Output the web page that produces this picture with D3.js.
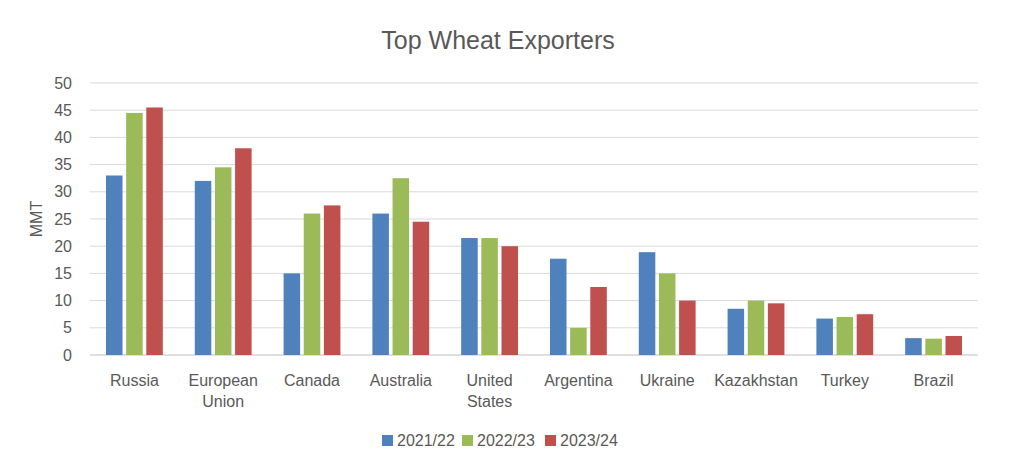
<html>
<head>
<script src="https://cdn.jsdelivr.net/npm/d3@7"></script>
<style>
  body { margin: 0; background: #fff; font-family: "Liberation Sans", Arial, sans-serif; }
</style>
</head>
<body>
<div id="chart"></div>
<script>
// data
var categories = ["Russia", "European Union", "Canada", "Australia", "United States",
                  "Argentina", "Ukraine", "Kazakhstan", "Turkey", "Brazil"];
var seriesNames = ["2021/22", "2022/23", "2023/24"];
var s2122 = [33, 32, 15, 26, 21.5, 17.7, 18.9, 8.5, 6.7, 3.1];
var s2223 = [44.5, 34.5, 26, 32.5, 21.5, 5, 15, 10, 7, 3];
var s2324 = [45.5, 38, 27.5, 24.5, 20, 12.5, 10, 9.5, 7.5, 3.5];
var yTicks = [0, 5, 10, 15, 20, 25, 30, 35, 40, 45, 50];
var colors = ["#4f81bd", "#9bbb59", "#c0504d"];

var series = [s2122, s2223, s2324];
var W = 1024, H = 469;
var m = { left: 90, right: 46, top: 83, bottom: 114 };

var svg = d3.select("#chart").append("svg").attr("width", W).attr("height", H);

var x = d3.scaleBand().domain(categories).range([m.left, W - m.right]).paddingInner(0.36).paddingOuter(0.18);
var xs = d3.scaleBand().domain(seriesNames).range([0, x.bandwidth()]).paddingInner(0.18);
var y = d3.scaleLinear().domain([0, 50]).range([H - m.bottom, m.top]);

// gridlines
svg.append("g").selectAll("line").data(yTicks).enter().append("line")
    .attr("x1", m.left).attr("x2", W - m.right)
    .attr("y1", function (d) { return y(d); }).attr("y2", function (d) { return y(d); })
    .attr("stroke", function (d) { return d === 0 ? "#bfbfbf" : "#d9d9d9"; });

// y axis labels
var yAxis = d3.axisLeft(y).tickValues(yTicks).tickSize(0).tickPadding(18);
svg.append("g").attr("transform", "translate(" + m.left + ",0)").call(yAxis)
    .call(function (g) { g.select(".domain").remove(); })
    .selectAll("text").attr("font-size", 16).attr("fill", "#595959");

// bars
series.forEach(function (vals, si) {
  svg.append("g").selectAll("rect").data(vals).enter().append("rect")
      .attr("x", function (d, i) { return x(categories[i]) + xs(seriesNames[si]); })
      .attr("width", xs.bandwidth())
      .attr("y", function (d) { return y(d); })
      .attr("height", function (d) { return y(0) - y(d); })
      .attr("fill", colors[si]);
});

// category labels (wrap two-word ones)
var xl = svg.append("g");
categories.forEach(function (c) {
  var words = c.split(" ");
  var t = xl.append("text").attr("text-anchor", "middle")
      .attr("font-size", 16).attr("fill", "#595959");
  words.forEach(function (w, i) {
    t.append("tspan").attr("x", x(c) + x.bandwidth() / 2)
        .attr("y", y(0) + 31 + i * 21).text(w);
  });
});

// y axis title
svg.append("text").attr("transform", "translate(42," + y(25) + ") rotate(-90)")
    .attr("text-anchor", "middle").attr("font-size", 16).attr("fill", "#595959").text("MMT");

// title
svg.append("text").attr("x", 498).attr("y", 49).attr("text-anchor", "middle")
    .attr("font-size", 25).attr("fill", "#595959").text("Top Wheat Exporters");

// legend
var lg = svg.append("g");
var lx = [382, 462, 545];
seriesNames.forEach(function (n, i) {
  lg.append("rect").attr("x", lx[i]).attr("y", 435).attr("width", 11).attr("height", 11).attr("fill", colors[i]);
  lg.append("text").attr("x", lx[i] + 15).attr("y", 446).attr("font-size", 16)
      .attr("fill", "#595959").text(n);
});
</script>
</body>
</html>
